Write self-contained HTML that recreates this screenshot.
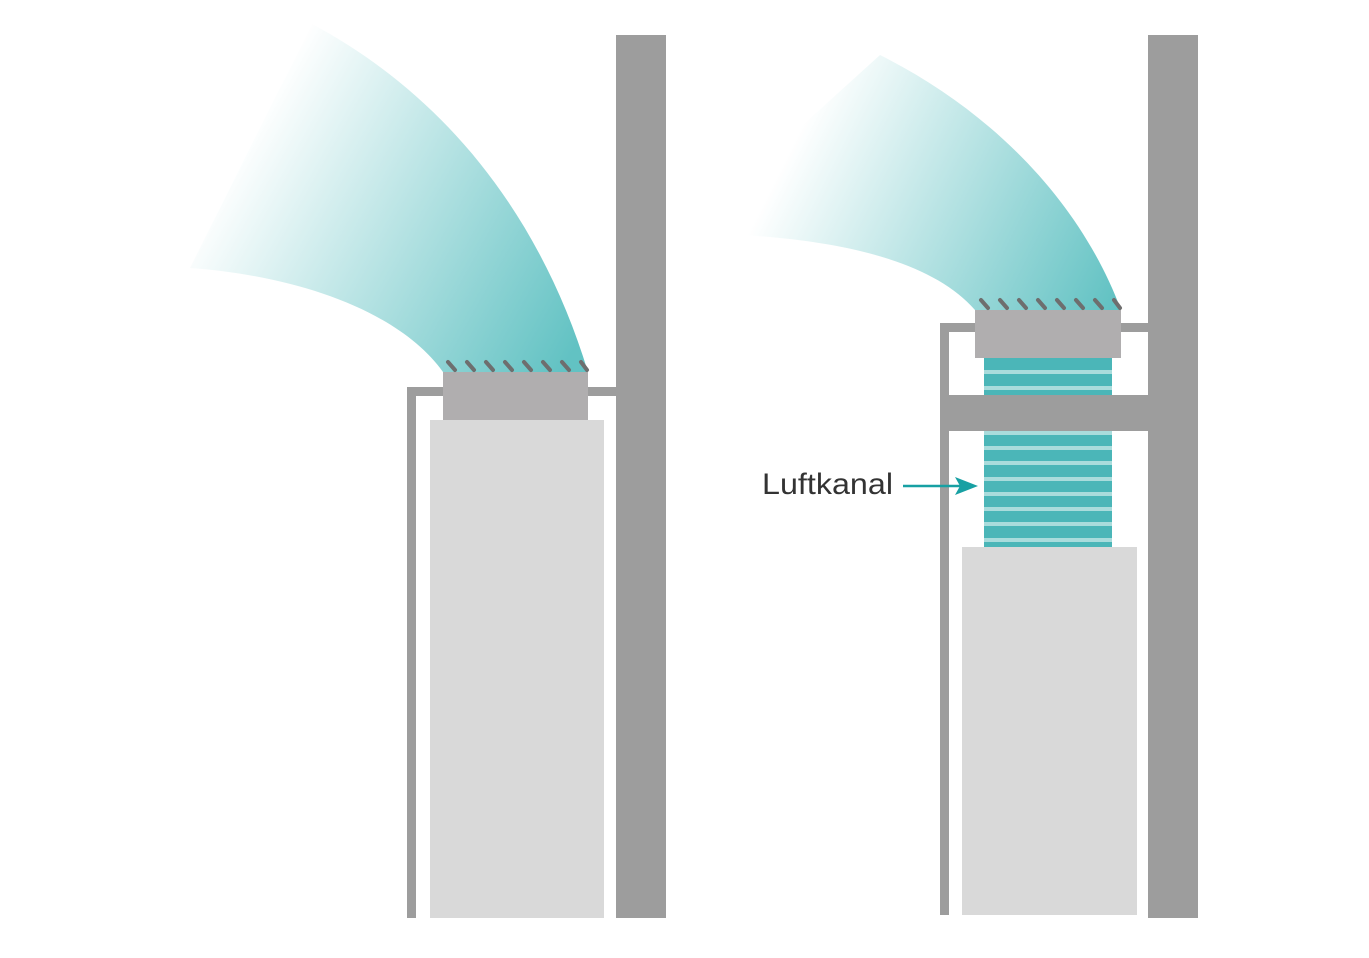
<!DOCTYPE html>
<html><head><meta charset="utf-8"><style>html,body{margin:0;padding:0;background:#fff}svg{display:block}</style></head>
<body>
<svg width="1369" height="958" viewBox="0 0 1369 958" xmlns="http://www.w3.org/2000/svg">
<defs>
<linearGradient id="gL" gradientUnits="userSpaceOnUse" x1="245" y1="140" x2="585" y2="330">
<stop offset="0" stop-color="#ffffff"/><stop offset="1" stop-color="#62c2c3"/></linearGradient>
<linearGradient id="gR" gradientUnits="userSpaceOnUse" x1="790" y1="150" x2="1110" y2="310">
<stop offset="0" stop-color="#ffffff"/><stop offset="1" stop-color="#62c2c3"/></linearGradient>
</defs>
<path d="M443,372 C400,312 300,276 190,268 L312,24 C445,95 540,215 588,372 Z" fill="url(#gL)"/>
<rect x="616" y="35" width="50" height="883" fill="#9d9d9d"/>
<rect x="407" y="387" width="209" height="9" fill="#9d9d9d"/>
<rect x="407" y="387" width="9" height="531" fill="#9d9d9d"/>
<rect x="430" y="420" width="174" height="498" fill="#d9d9d9"/>
<rect x="443" y="372" width="145" height="48" fill="#b0aeaf"/>
<g stroke="#6e6e6e" stroke-width="4" stroke-linecap="round">
<line x1="448" y1="362" x2="455" y2="370"/><line x1="467" y1="362" x2="474" y2="370"/><line x1="486" y1="362" x2="493" y2="370"/><line x1="505" y1="362" x2="512" y2="370"/><line x1="524" y1="362" x2="531" y2="370"/><line x1="543" y1="362" x2="550" y2="370"/><line x1="562" y1="362" x2="569" y2="370"/><line x1="581" y1="362" x2="587" y2="370"/>
</g>
<path d="M975,310 C930,258 830,238 720,234 L720,200 L880,55 C990,110 1080,200 1121,310 Z" fill="url(#gR)"/>
<rect x="1148" y="35" width="50" height="883" fill="#9d9d9d"/>
<rect x="940" y="323" width="208" height="9" fill="#9d9d9d"/>
<rect x="940" y="323" width="9" height="592" fill="#9d9d9d"/>
<rect x="984" y="358" width="128" height="189" fill="#4bb6b8"/>
<g fill="#a9dcdc">
<rect x="984" y="370" width="128" height="4"/><rect x="984" y="386" width="128" height="4"/>
<rect x="984" y="431" width="128" height="4"/><rect x="984" y="446" width="128" height="4"/><rect x="984" y="461" width="128" height="4"/><rect x="984" y="477" width="128" height="4"/><rect x="984" y="492" width="128" height="4"/><rect x="984" y="507" width="128" height="4"/><rect x="984" y="522" width="128" height="4"/><rect x="984" y="538" width="128" height="4"/>
</g>
<rect x="940" y="395" width="208" height="36" fill="#9d9d9d"/>
<rect x="962" y="547" width="175" height="368" fill="#d9d9d9"/>
<rect x="975" y="310" width="146" height="48" fill="#b0aeaf"/>
<g stroke="#6e6e6e" stroke-width="4" stroke-linecap="round">
<line x1="981" y1="300" x2="988" y2="308"/><line x1="1000" y1="300" x2="1007" y2="308"/><line x1="1019" y1="300" x2="1026" y2="308"/><line x1="1038" y1="300" x2="1045" y2="308"/><line x1="1057" y1="300" x2="1064" y2="308"/><line x1="1076" y1="300" x2="1083" y2="308"/><line x1="1095" y1="300" x2="1102" y2="308"/><line x1="1114" y1="300" x2="1120" y2="308"/>
</g>
<text x="762" y="494" font-family="Liberation Sans, sans-serif" font-size="30" fill="#333" textLength="131" lengthAdjust="spacingAndGlyphs">Luftkanal</text>
<line x1="903" y1="486" x2="962" y2="486" stroke="#17a0a3" stroke-width="2.5"/>
<path d="M955,477 L978,486 L955,495 L960,486 Z" fill="#17a0a3"/>
</svg>
</body></html>
